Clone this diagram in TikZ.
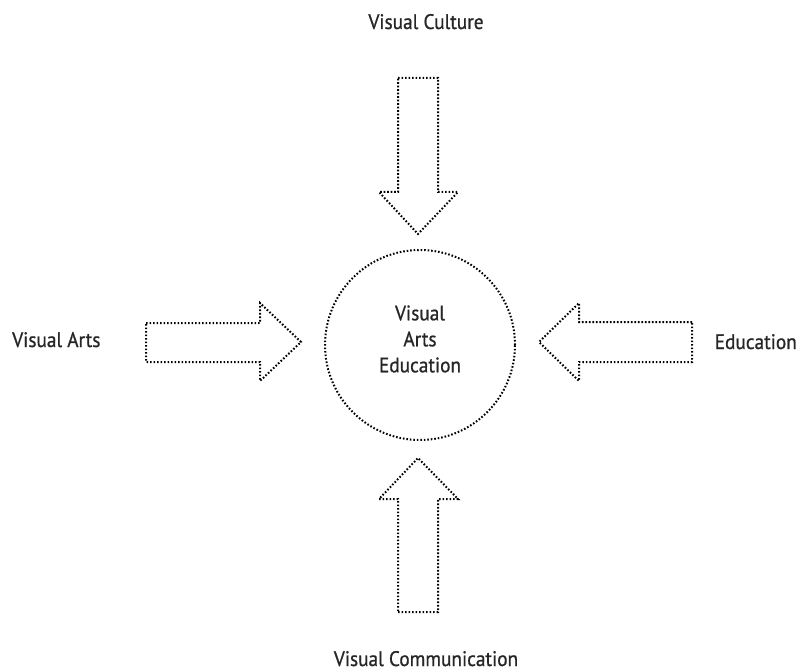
\documentclass[tikz,border=0pt]{standalone}
\usepackage{fontspec}
\setmainfont[FakeStretch=0.92,FakeBold=0.8]{PT Sans}
\begin{document}
\begin{tikzpicture}[x=1pt,y=-1pt,
  dotline/.style={draw=black, line width=2pt, dash pattern=on 1.6pt off 1.9pt, line cap=butt},
  lbl/.style={font=\fontsize{21}{26}\selectfont, inner sep=0pt, text=black!85},
  ring/.style={circle, dotline, minimum size=190pt, inner sep=0pt}]
\useasboundingbox (0,0) rectangle (800,671);
% centre circle
\node[ring] (vae) at (420,345) {};
\node[lbl, align=center, anchor=center] (vaetext) at (420,339) {Visual\\Arts\\Education};
% top arrow (down)
\draw[dotline] (398,78) -- (438,78) -- (438,192) -- (458,192) -- (418,234) -- (379,192) -- (398,192) -- cycle;
% bottom arrow (up)
\draw[dotline] (398,612) -- (438,612) -- (438,499) -- (458,499) -- (418,458) -- (379,499) -- (398,499) -- cycle;
% left arrow (right)
\draw[dotline] (146,323) -- (260,323) -- (260,303) -- (301,342) -- (260,381) -- (260,362) -- (146,362) -- cycle;
% right arrow (left)
\draw[dotline] (692,322) -- (579,322) -- (579,303) -- (539,342) -- (579,381) -- (579,362) -- (692,362) -- cycle;
% labels
\node[lbl, anchor=base] (vc) at (426,29) {Visual Culture};
\node[lbl, anchor=base] (vcom) at (426,666) {Visual Communication};
\node[lbl, anchor=base west] (va) at (12,347) {Visual Arts};
\node[lbl, anchor=base east] (ed) at (797,349) {Education};
\end{tikzpicture}
\end{document}
